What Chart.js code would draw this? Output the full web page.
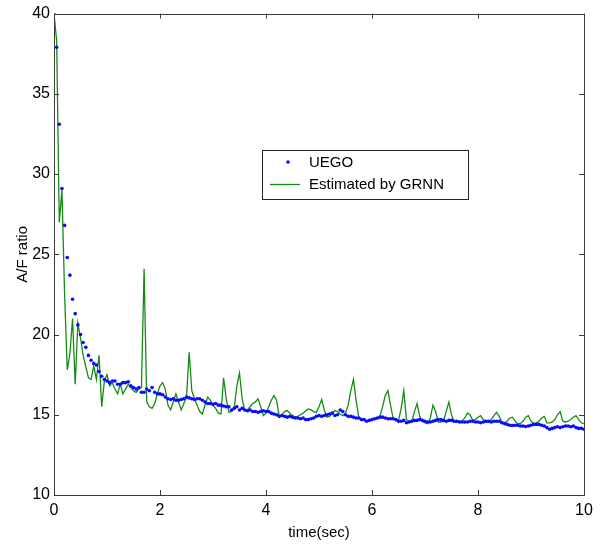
<!DOCTYPE html>
<html>
<head>
<meta charset="utf-8">
<script src="https://cdn.jsdelivr.net/npm/chart.js@4"></script>
<style>
  html, body { margin: 0; padding: 0; background: #fff; }
  #wrap { width: 605px; height: 546px; }
</style>
</head>
<body>
<div id="wrap"><canvas id="chart" width="605" height="546"></canvas></div>
<script>
// sample step of both signals (sec)
const dt = 0.05;

// UEGO measurement, one value every 0.05 s from 0 to 10 s
const uego = [
  40.0, 37.9, 33.1, 29.1, 26.8, 24.8, 23.7, 22.2, 21.3, 20.6,
  20.0, 19.5, 19.2, 18.7, 18.4, 18.2, 18.1, 17.7, 17.4, 17.2,
  17.1, 17.0, 17.1, 17.1, 16.9, 16.9, 17.0, 17.0, 17.05, 16.8,
  16.7, 16.6, 16.7, 16.4, 16.4, 16.6, 16.5, 16.7, 16.4, 16.3,
  16.3, 16.25, 16.1, 16.0, 15.95, 16.0, 15.9, 15.9, 15.95, 16.0,
  16.1, 16.05, 16.0, 15.95, 16.0, 16.0, 15.9, 15.8, 15.7, 15.7,
  15.65, 15.7, 15.6, 15.6, 15.55, 15.5, 15.5, 15.3, 15.4, 15.5,
  15.3, 15.4, 15.3, 15.25, 15.3, 15.2, 15.2, 15.15, 15.2, 15.25,
  15.2, 15.2, 15.1, 15.05, 15.0, 14.9, 14.95, 14.9, 14.85, 14.9,
  14.85, 14.8, 14.8, 14.75, 14.8, 14.7, 14.7, 14.75, 14.8, 14.9,
  14.95, 14.9, 14.95, 15.0, 15.05, 15.1, 14.95, 15.0, 15.3, 15.2,
  15.0, 14.9, 14.9, 14.85, 14.8, 14.8, 14.7, 14.7, 14.6, 14.65,
  14.7, 14.75, 14.8, 14.85, 14.85, 14.8, 14.75, 14.75, 14.75, 14.7,
  14.6, 14.6, 14.65, 14.5, 14.55, 14.6, 14.65, 14.65, 14.7, 14.65,
  14.6, 14.55, 14.55, 14.6, 14.65, 14.7, 14.7, 14.65, 14.6, 14.65,
  14.65, 14.6, 14.6, 14.55, 14.55, 14.55, 14.55, 14.6, 14.6, 14.55,
  14.55, 14.5, 14.55, 14.6, 14.6, 14.55, 14.6, 14.6, 14.6, 14.5,
  14.45, 14.4, 14.35, 14.33, 14.35, 14.35, 14.3, 14.3, 14.27, 14.3,
  14.35, 14.4, 14.4, 14.4, 14.35, 14.3, 14.2, 14.1, 14.15, 14.2,
  14.25, 14.2, 14.25, 14.3, 14.3, 14.25, 14.3, 14.2, 14.15, 14.15,
  14.1
];

// GRNN estimate, same sampling
const grnn = [
  40.0, 38.3, 27.0, 29.0, 22.5, 17.8, 18.8, 21.0, 16.9, 20.7,
  19.8, 18.7, 18.0, 17.3, 17.2, 18.05, 17.2, 18.7, 15.5, 17.1,
  17.5, 16.8, 17.0, 16.6, 16.3, 16.9, 16.3, 16.6, 16.9, 16.7,
  16.5, 16.4, 16.6, 16.7, 24.1, 15.8, 15.5, 15.4, 15.7, 16.3,
  16.8, 17.0, 16.6, 15.6, 15.3, 15.8, 16.3, 15.8, 15.3, 15.7,
  16.1, 18.9, 16.5, 16.0, 15.6, 15.2, 15.05, 15.6, 16.1, 15.9,
  15.6, 15.4, 15.1, 15.05, 17.3, 16.0, 15.15, 15.2, 15.4, 16.8,
  17.6, 16.0, 15.26, 15.3, 15.5, 15.7, 15.8, 16.0, 15.5, 14.95,
  15.1, 15.5, 15.9, 16.2, 15.9, 14.9, 15.0, 15.2, 15.26, 15.1,
  14.95, 14.85, 14.9, 15.0, 15.1, 15.25, 15.36, 15.3, 15.2, 15.15,
  15.5, 15.95, 15.3, 14.85, 14.9, 15.1, 15.26, 15.2, 15.05, 14.95,
  15.1, 15.6, 16.5, 17.2, 15.9, 14.85, 14.75, 14.65, 14.6, 14.65,
  14.7, 14.75, 14.75, 14.9, 15.5, 16.2, 16.5, 15.6, 14.75, 14.7,
  14.65, 15.4, 16.5, 14.7, 14.6, 14.55, 15.2, 15.7, 14.9, 14.6,
  14.5, 14.45, 14.8, 15.6, 15.2, 14.55, 14.55, 14.6, 15.2, 15.8,
  15.0, 14.55, 14.55, 14.6, 14.6, 14.8, 15.1, 15.0, 14.65, 14.7,
  14.85, 14.95, 14.7, 14.55, 14.55, 14.7, 14.95, 15.15, 14.9, 14.55,
  14.5, 14.6, 14.8, 14.85, 14.6, 14.45, 14.45, 14.6, 14.85, 14.95,
  14.6, 14.45, 14.5, 14.6, 14.8, 14.9, 14.5, 14.5, 14.55, 14.7,
  15.0, 15.2, 14.6, 14.55, 14.6, 14.7, 14.85, 14.95, 14.7, 14.5,
  14.45
];

const xTicks = [0, 2, 4, 6, 8, 10];
const yTicks = [10, 15, 20, 25, 30, 35, 40];

const FONT = '"Liberation Sans", Arial, sans-serif';
const AXIS_COLOR = '#3a3a3a';

// inward ticks on all four sides + box, legend inside the plot
const matlabAxes = {
  id: 'matlabAxes',
  afterDraw(chart) {
    const ctx = chart.ctx;
    const a = chart.chartArea;
    const xs = chart.scales.x, ys = chart.scales.y;
    const len = 5;
    ctx.save();
    ctx.strokeStyle = AXIS_COLOR;
    ctx.lineWidth = 1;
    ctx.beginPath();
    xTicks.forEach(v => {
      const px = Math.round(xs.getPixelForValue(v)) + 0.5;
      ctx.moveTo(px, a.bottom); ctx.lineTo(px, a.bottom - len);
      ctx.moveTo(px, a.top); ctx.lineTo(px, a.top + len);
    });
    yTicks.forEach(v => {
      const py = Math.round(ys.getPixelForValue(v)) + 0.5;
      ctx.moveTo(a.left, py); ctx.lineTo(a.left + len, py);
      ctx.moveTo(a.right, py); ctx.lineTo(a.right - len, py);
    });
    ctx.stroke();
    ctx.strokeRect(Math.round(a.left) + 0.5, Math.round(a.top) + 0.5,
      Math.round(a.right - a.left), Math.round(a.bottom - a.top));

    // legend box
    const ds = chart.data.datasets;
    const bx = 262.5, by = 150.5, bw = 206, bh = 49;
    ctx.fillStyle = '#fff';
    ctx.fillRect(bx, by, bw, bh);
    ctx.strokeStyle = '#222';
    ctx.strokeRect(bx, by, bw, bh);
    ctx.font = '15px ' + FONT;
    ctx.textBaseline = 'middle';
    ctx.fillStyle = '#000';
    ctx.fillText(ds[0].label, 309, 163);
    ctx.fillText(ds[1].label, 309, 185);
    ctx.fillStyle = ds[0].backgroundColor;
    ctx.beginPath();
    ctx.arc(288, 162, 1.8, 0, Math.PI * 2);
    ctx.fill();
    ctx.strokeStyle = ds[1].borderColor;
    ctx.lineWidth = 1.3;
    ctx.beginPath();
    ctx.moveTo(270, 184.5); ctx.lineTo(300, 184.5);
    ctx.stroke();
    ctx.restore();
  }
};

new Chart(document.getElementById('chart'), {
  type: 'line',
  data: {
    datasets: [
      {
        label: 'UEGO',
        data: uego.map((v, i) => ({ x: i * dt, y: v })),
        showLine: false,
        pointRadius: 1.8,
        pointBorderWidth: 0,
        backgroundColor: '#0a0aff',
        borderColor: '#0a0aff'
      },
      {
        label: 'Estimated by GRNN',
        data: grnn.map((v, i) => ({ x: i * dt, y: v })),
        borderColor: '#138c13',
        backgroundColor: '#138c13',
        borderWidth: 1.3,
        pointRadius: 0,
        tension: 0
      }
    ]
  },
  options: {
    responsive: false,
    animation: false,
    layout: { padding: { top: 10, right: 21, left: 0, bottom: 0 } },
    plugins: {
      legend: { display: false },
      tooltip: { enabled: false }
    },
    scales: {
      x: {
        type: 'linear',
        min: 0, max: 10,
        afterBuildTicks: s => { s.ticks = xTicks.map(v => ({ value: v })); },
        afterFit: s => { s.height = 51; },
        grid: { display: false, drawTicks: false },
        border: { display: false },
        ticks: { color: '#000', font: { family: FONT, size: 16 }, padding: 6, maxRotation: 0 },
        title: { display: true, text: 'time(sec)', color: '#000', font: { family: FONT, size: 15 }, padding: { top: 0 } }
      },
      y: {
        min: 10, max: 40,
        afterBuildTicks: s => { s.ticks = yTicks.map(v => ({ value: v })); },
        afterFit: s => { s.width = 54; },
        grid: { display: false, drawTicks: false },
        border: { display: false },
        ticks: { color: '#000', font: { family: FONT, size: 16 }, padding: 4 },
        title: { display: true, text: 'A/F ratio', color: '#000', font: { family: FONT, size: 15 }, padding: { top: 14, bottom: 0 } }
      }
    }
  },
  plugins: [matlabAxes]
});
</script>
</body>
</html>
